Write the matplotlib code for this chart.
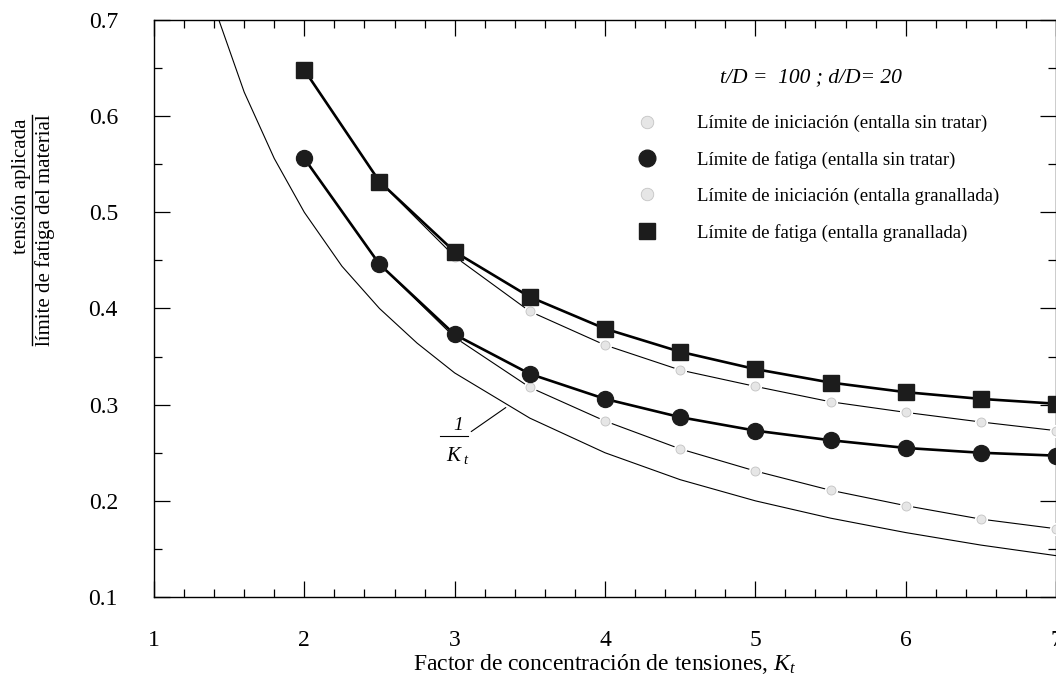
import matplotlib
matplotlib.use("Agg")
import matplotlib.pyplot as plt
from matplotlib.lines import Line2D
from matplotlib.ticker import MultipleLocator

plt.rcParams['font.family'] = ['Liberation Serif', 'DejaVu Serif']
plt.rcParams['mathtext.fontset'] = 'custom'
plt.rcParams['mathtext.rm'] = 'Liberation Serif'
plt.rcParams['mathtext.it'] = 'Liberation Serif:italic'

# ========== DATA ==========

kt = [2.0, 2.5, 3.0, 3.5, 4.0, 4.5, 5.0, 5.5, 6.0, 6.5, 7.0]

fatiga_granallada = [0.648, 0.532, 0.459, 0.412, 0.379, 0.355, 0.337, 0.323, 0.313, 0.306, 0.301]
inic_granallada = [0.648, 0.532, 0.454, 0.397, 0.362, 0.336, 0.319, 0.303, 0.292, 0.282, 0.273]
fatiga_sin_tratar = [0.556, 0.446, 0.373, 0.332, 0.306, 0.287, 0.273, 0.263, 0.255, 0.250, 0.247]
inic_sin_tratar = [0.556, 0.446, 0.370, 0.318, 0.283, 0.254, 0.231, 0.211, 0.195, 0.181, 0.171]

# curva 1/Kt
kt_ref = [1.4, 1.6, 1.8, 2.0, 2.25, 2.5, 2.75, 3.0, 3.5, 4.0, 4.5, 5.0, 5.5, 6.0, 6.5, 7.0]
inv_kt = [0.714, 0.625, 0.556, 0.500, 0.444, 0.400, 0.364, 0.333, 0.286, 0.250,
          0.222, 0.200, 0.182, 0.167, 0.154, 0.143]

x_ticks = [1, 2, 3, 4, 5, 6, 7]
y_ticks = [0.1, 0.2, 0.3, 0.4, 0.5, 0.6, 0.7]

labels = ["Límite de iniciación (entalla sin tratar)",
          "Límite de fatiga (entalla sin tratar)",
          "Límite de iniciación (entalla granallada)",
          "Límite de fatiga (entalla granallada)"]

# ========== PLOT ==========

W, H = 1056, 682
fig = plt.figure(figsize=(W / 100, H / 100), dpi=100)
ax = fig.add_axes([154 / W, 1 - 597 / H, (1056 - 154) / W, (597 - 20) / H])

dark = '#1c1c1c'
light_face = '#e6e6e6'
light_edge = '#c4c4c4'

ax.plot(kt_ref, inv_kt, color='k', lw=0.8, zorder=2)

for vals in (inic_sin_tratar, inic_granallada):
    ax.plot(kt, vals, color='k', lw=0.8, zorder=2)
    ax.plot(kt, vals, ls='none', marker='o', ms=8, mfc=light_face, mec='white',
            mew=1.5, zorder=3)
    ax.plot(kt, vals, ls='none', marker='o', ms=6.5, mfc=light_face, mec=light_edge,
            mew=0.6, zorder=3)

ax.plot(kt, fatiga_sin_tratar, color='k', lw=1.9, marker='o', ms=11.5,
        mfc=dark, mec=dark, zorder=4)
ax.plot(kt, fatiga_granallada, color='k', lw=1.9, marker='s', ms=11.5,
        mfc=dark, mec=dark, zorder=4)

ax.set_xlim(1, 7)
ax.set_ylim(0.1, 0.7)
ax.set_xticks(x_ticks)
ax.set_xticklabels([str(v) for v in x_ticks])
ax.set_yticks(y_ticks)
ax.set_yticklabels([f"{v:.1f}" for v in y_ticks])
ax.xaxis.set_minor_locator(MultipleLocator(0.2))
ax.yaxis.set_minor_locator(MultipleLocator(0.05))
ax.tick_params(which='both', direction='in', top=True, right=True, width=0.9,
               color='k')
ax.tick_params(which='major', length=11.5)
ax.tick_params(which='minor', length=6)
ax.tick_params(axis='x', which='major', pad=24, labelsize=17)
ax.tick_params(axis='y', which='major', pad=26, labelsize=17)
for s in ax.spines.values():
    s.set_linewidth(1.0)

# ========== LABELING ==========

fig.text(605 / W, 1 - 664 / H, r"Factor de concentración de tensiones, $K_t$",
         ha='center', va='center', fontsize=17)

fig.text(22 / W, 1 - 186 / H, "tensión aplicada", rotation=90,
         ha='center', va='center', fontsize=15)
fig.text(45 / W, 1 - 230 / H, "límite de fatiga del material", rotation=90,
         ha='center', va='center', fontsize=15)
fig.add_artist(Line2D([32 / W, 32 / W], [1 - 115 / H, 1 - 345 / H],
                      transform=fig.transFigure, color='k', lw=1.0))

# etiqueta 1/Kt
ax.annotate("", xy=(3.34, 0.297), xytext=(3.11, 0.272),
            arrowprops=dict(arrowstyle='-', lw=0.8, color='k', shrinkA=0, shrinkB=0))
ax.text(3.02, 0.269, "1", style='italic', fontsize=14, ha='center', va='bottom')
ax.plot([2.9, 3.09], [0.267, 0.267], color='k', lw=0.8, clip_on=False)
ax.text(3.02, 0.258, r"$K_{\ t}$", fontsize=15, ha='center', va='top')

# leyenda
fig.text(811 / W, 1 - 78 / H, "t/D =  100 ; d/D= 20", style='italic',
         ha='center', va='center', fontsize=15.5)
handles = [
    Line2D([], [], ls='none', marker='o', ms=9, mfc=light_face, mec=light_edge, mew=0.6),
    Line2D([], [], ls='none', marker='o', ms=12, mfc=dark, mec=dark),
    Line2D([], [], ls='none', marker='o', ms=9, mfc=light_face, mec=light_edge, mew=0.6),
    Line2D([], [], ls='none', marker='s', ms=12, mfc=dark, mec=dark),
]
fig.legend(handles, labels, loc='upper left', bbox_to_anchor=(633 / W, 1 - 115 / H),
           frameon=False, fontsize=13.5, handlelength=1.5, handletextpad=1.9,
           labelspacing=1.0, borderpad=0, borderaxespad=0)

plt.savefig("out.png", dpi=100)
